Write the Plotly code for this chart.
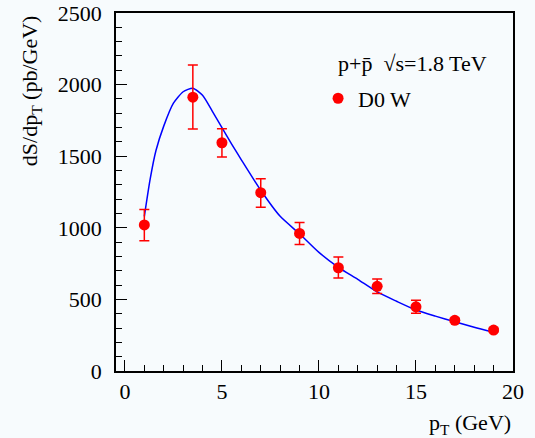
import plotly.graph_objects as go

# measured data points
pt = [1, 3.5, 5, 7, 9, 11, 13, 15, 17, 19]
xsec = [1020, 1912, 1594, 1245, 961, 721, 591, 448, 354, 286]
err_up = [108, 225, 98, 98, 76, 75, 51, 46, 14, 12]
err_dn = [110, 222, 100, 102, 77, 72, 49, 45, 14, 12]

# theory curve
curve_pt = [1, 1.3, 1.6, 2, 2.5, 3, 3.5, 4, 4.5, 5, 5.5, 6, 7, 8, 9, 10, 11, 12, 13, 14, 15, 16, 17, 18, 19]
curve_y = [1080, 1340, 1540, 1710, 1870, 1950, 1975, 1925, 1815, 1700, 1585, 1475, 1262, 1080, 958, 828, 724, 640, 552, 487, 426, 383, 344, 305, 270]

xticks = [0, 5, 10, 15, 20]
yticks = [0, 500, 1000, 1500, 2000, 2500]

BG = "#f7fbfd"
FONT = "Liberation Serif"
FS = 22

fig = go.Figure()
fig.add_trace(go.Scatter(
    x=curve_pt, y=curve_y, mode="lines", line=dict(color="#0000ff", width=1.5, shape="spline", smoothing=0.6),
    showlegend=False, hoverinfo="skip"))
fig.add_trace(go.Scatter(
    x=pt, y=xsec, mode="markers",
    marker=dict(color="#ff0000", size=11),
    error_y=dict(type="data", symmetric=False, array=err_up, arrayminus=err_dn,
                 color="#ff0000", thickness=1.5, width=5),
    showlegend=False))
fig.add_trace(go.Scatter(
    x=[None], y=[None], mode="markers", name="D0 W",
    marker=dict(color="#ff0000", size=11)))

axis_common = dict(
    showline=True, linecolor="black", linewidth=1.5, mirror=True,
    ticks="inside", tickcolor="black", tickwidth=1,
    showgrid=False, zeroline=False, automargin=False,
    tickfont=dict(family=FONT, size=FS, color="black"),
)
fig.update_xaxes(range=[-0.46, 20], tickvals=xticks, ticklen=11,
                 minor=dict(dtick=1, ticks="inside", ticklen=6, tickcolor="black", showgrid=False),
                 ticklabelstandoff=0, **axis_common)
fig.update_yaxes(range=[0, 2500], tickvals=yticks, ticklen=11,
                 minor=dict(dtick=100, ticks="inside", ticklen=6, tickcolor="black", showgrid=False),
                 ticklabelstandoff=8, **axis_common)

fig.add_annotation(text="dS/dp<sub>T</sub> (pb/GeV)", textangle=-90, xref="paper", yref="paper",
                   x=-0.215, y=1.0, xanchor="center", yanchor="top", showarrow=False,
                   font=dict(family=FONT, size=FS, color="black"))
fig.add_annotation(text="p<sub>T</sub> (GeV)", xref="paper", yref="paper",
                   x=1.0, y=-0.148, xanchor="right", yanchor="middle", showarrow=False,
                   font=dict(family=FONT, size=FS, color="black"))
fig.add_annotation(text="p+p\u0304  \u221as=1.8 TeV", xref="paper", yref="paper",
                   x=0.553, y=0.858, xanchor="left", yanchor="middle", showarrow=False,
                   font=dict(family=FONT, size=FS, color="black"))

fig.update_layout(
    width=535, height=438,
    margin=dict(l=116, r=22, t=13, b=67, autoexpand=False),
    paper_bgcolor=BG, plot_bgcolor=BG,
    showlegend=True,
    legend=dict(x=0.509, y=0.82, xanchor="left", yanchor="top", bgcolor="rgba(0,0,0,0)",
                font=dict(family=FONT, size=FS, color="black")),
)

fig.write_html("out.html", config={"displayModeBar": False},
               post_script="document.body.style.margin='0';document.body.style.background='%s';" % BG)
